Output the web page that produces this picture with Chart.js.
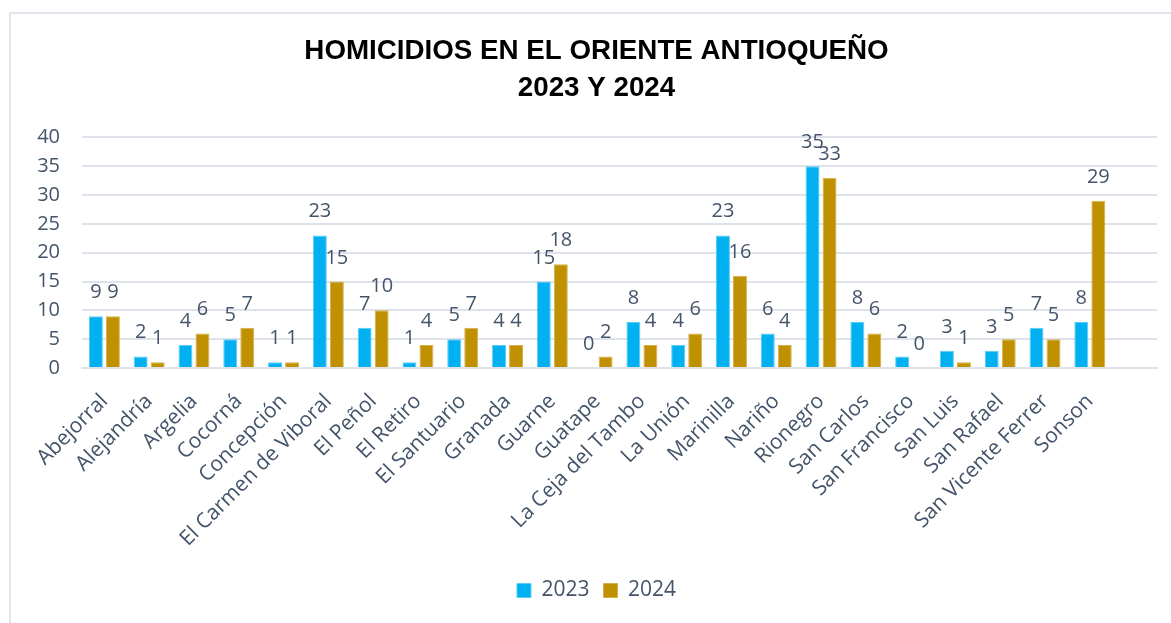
<!DOCTYPE html>
<html>
<head>
<meta charset="utf-8">
<script src="https://cdn.jsdelivr.net/npm/chart.js@4"></script>
<style>
  html, body { margin: 0; padding: 0; background: #fff; overflow: hidden; }
  #frame {
    position: absolute; left: 9px; top: 12px; width: 1200px; height: 650px;
    border-left: 2px solid #e1e5ec; border-top: 2px solid #e1e5ec;
  }
  #wrap { position: absolute; left: 0; top: 0; width: 1171px; height: 623px; }
</style>
</head>
<body>
<div id="frame"></div>
<div id="wrap"><canvas id="chart"></canvas></div>
<script>
// municipios del Oriente antioqueño (la última categoría está vacía en el original)
const municipios = [
  "Abejorral", "Alejandría", "Argelia", "Cocorná", "Concepción",
  "El Carmen de Viboral", "El Peñol", "El Retiro", "El Santuario", "Granada",
  "Guarne", "Guatape", "La Ceja del Tambo", "La Unión", "Marinilla",
  "Nariño", "Rionegro", "San Carlos", "San Francisco", "San Luis",
  "San Rafael", "San Vicente Ferrer", "Sonson", ""
];
const homicidios2023 = [9, 2, 4, 5, 1, 23, 7, 1, 5, 4, 15, 0, 8, 4, 23, 6, 35, 8, 2, 3, 3, 7, 8, null];
const homicidios2024 = [9, 1, 6, 7, 1, 15, 10, 4, 7, 4, 18, 2, 4, 6, 16, 4, 33, 6, 0, 1, 5, 5, 29, null];
const yTicks = [0, 5, 10, 15, 20, 25, 30, 35, 40];

const textColor = "#44546A";
const gridColor = "#DEE2EA";

// etiquetas de valor encima de cada barra
const valueLabels = {
  id: "valueLabels",
  afterDatasetsDraw(chart) {
    const ctx = chart.ctx;
    ctx.save();
    ctx.font = "20px 'Open Sans'";
    ctx.fillStyle = textColor;
    ctx.textAlign = "center";
    ctx.textBaseline = "alphabetic";
    chart.data.datasets.forEach((ds, i) => {
      const meta = chart.getDatasetMeta(i);
      meta.data.forEach((bar, j) => {
        if (ds.data[j] === null) return;
        ctx.fillText(String(ds.data[j]), bar.x, bar.y - 18);
      });
    });
    ctx.restore();
  }
};

const ctx = document.getElementById("chart").getContext("2d");
new Chart(ctx, {
  type: "bar",
  data: {
    labels: municipios,
    datasets: [
      {
        label: "2023",
        data: homicidios2023,
        backgroundColor: "#00B0F0",
        borderColor: "#5CCBF5",
        borderWidth: 1,
        categoryPercentage: 0.76,
        barPercentage: 0.82,
      },
      {
        label: "2024",
        data: homicidios2024,
        backgroundColor: "#BF9000",
        borderColor: "#D6B04A",
        borderWidth: 1,
        categoryPercentage: 0.76,
        barPercentage: 0.82,
      },
    ],
  },
  options: {
    responsive: true,
    maintainAspectRatio: false,
    animation: false,
    // el padding izquierdo centra título y leyenda como en el original
    layout: { padding: { top: 14, left: 36, right: 14, bottom: 12 } },
    plugins: {
      title: {
        display: true,
        text: ["HOMICIDIOS EN EL ORIENTE ANTIOQUEÑO", "2023 Y 2024"],
        color: "#000",
        font: { family: "'Liberation Sans', Arial, sans-serif", size: 27.75, weight: "bold", lineHeight: 1.36 },
        padding: { top: 18, bottom: 30 },
      },
      legend: {
        position: "bottom",
        labels: {
          color: textColor,
          font: { family: "'Open Sans'", size: 21 },
          boxWidth: 14,
          boxHeight: 14,
          padding: 14,
          useBorderRadius: false,
        },
      },
      tooltip: { enabled: false },
    },
    scales: {
      x: {
        grid: { display: false, drawTicks: false },
        border: { color: gridColor, width: 2 },
        ticks: {
          color: textColor,
          font: { family: "'Open Sans'", size: 21 },
          minRotation: 45,
          maxRotation: 45,
          padding: 21,
          autoSkip: false,
        },
        afterFit(scale) {
          scale.height = 198;
          scale.paddingRight = 0;
        },
      },
      y: {
        min: 0,
        max: 40,
        afterBuildTicks(scale) { scale.ticks = yTicks.map((v) => ({ value: v })); },
        grid: { color: gridColor, lineWidth: 2, drawTicks: false },
        border: { display: false },
        ticks: {
          color: textColor,
          font: { family: "'Open Sans'", size: 20 },
          padding: 22,
        },
        afterFit(scale) { scale.width = 46; },
      },
    },
  },
  plugins: [valueLabels],
});
</script>
</body>
</html>
